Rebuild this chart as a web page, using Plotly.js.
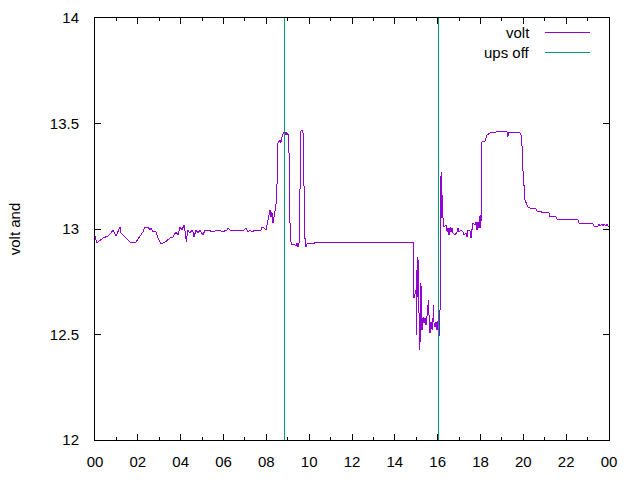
<!DOCTYPE html>
<html>
<head>
<meta charset="utf-8">
<script src="https://cdn.plot.ly/plotly-3.0.1.min.js"></script>
<style>
html,body{margin:0;padding:0;background:#fff;}
#chart{width:640px;height:480px;}
#chart .scatterlayer path, #chart .layer-above path, #chart .xlines-above, #chart .ylines-above, #chart path.xtick, #chart path.ytick {shape-rendering: crispEdges;}
</style>
</head>
<body>
<div id="chart"></div>
<script>
// Hours of the day (0..24) and measured voltage
const voltHours = [
  0, 0.09, 0.37, 0.61, 0.75, 0.84, 0.98, 1.17, 1.21, 1.40, 1.63, 1.87, 1.91, 2.24, 2.33, 2.47, 2.57, 2.61, 2.71, 2.85,
  2.94, 3.08, 3.27, 3.50, 3.64, 3.78, 3.88, 3.97, 4.06, 4.16, 4.20, 4.27, 4.32, 4.44, 4.53, 4.58, 4.62, 4.72, 4.81, 4.90,
  5.04, 5.14, 5.37, 5.42, 5.56, 5.65, 5.84, 5.93, 6.16, 6.21, 6.30, 6.96, 7.05, 7.14, 7.24, 7.33, 7.47, 7.75, 7.80, 7.89,
  7.98, 8.03, 8.08, 8.17, 8.22, 8.26, 8.31, 8.40, 8.45, 8.50, 8.52, 8.54, 8.64, 8.68, 8.73, 8.78, 8.82, 8.87, 8.92, 8.96,
  9.01, 9.06, 9.10, 9.15, 9.20, 9.29, 9.38, 9.43, 9.48, 9.53, 9.57, 9.62, 9.71, 9.76, 9.81, 9.85, 9.90, 10.18, 10.27, 10.32,
  10.37, 14.89, 14.89, 14.99, 14.99, 15.03, 15.05, 15.08, 15.13, 15.17, 15.22, 15.27, 15.32, 15.36, 15.41, 15.46, 15.50, 15.55, 15.57, 15.60,
  15.64, 15.69, 15.74, 15.78, 15.80, 15.83, 15.88, 15.92, 15.97, 15.99, 16.02, 16.06, 16.11, 16.12, 16.16, 16.18, 16.20, 16.25, 16.30, 16.39,
  16.44, 16.48, 16.53, 16.58, 16.62, 16.67, 16.72, 16.81, 16.90, 16.95, 17.00, 17.09, 17.18, 17.23, 17.32, 17.37, 17.42, 17.51, 17.56, 17.60,
  17.65, 17.74, 17.79, 17.84, 17.88, 17.93, 17.98, 18.02, 18.05, 18.07, 18.21, 18.26, 18.30, 18.44, 18.68, 18.72, 19.14, 19.24, 19.28, 19.30,
  19.84, 19.89, 19.94, 19.98, 20.03, 20.08, 20.17, 20.22, 20.31, 20.40, 20.59, 20.64, 20.82, 20.84, 21.20, 21.24, 21.52, 21.57, 21.99, 22.04,
  22.55, 22.60, 23.02, 23.07, 23.25, 23.30, 23.49, 23.53, 23.58, 23.67, 23.72, 23.77, 23.86, 23.91, 23.95, 24.0
];
const voltValues = [
  12.967, 12.934, 12.957, 12.967, 12.981, 12.995, 12.967, 13.009, 12.981, 12.962, 12.938, 12.934, 12.938, 12.986, 13.009, 13.009, 12.995, 13.005, 12.986, 12.986,
  12.957, 12.929, 12.938, 12.957, 12.962, 12.986, 12.972, 13.009, 12.995, 13.019, 12.986, 12.940, 12.995, 12.981, 12.995, 12.986, 12.962, 12.995, 12.981, 12.995,
  12.972, 12.995, 12.995, 12.986, 12.986, 12.995, 12.995, 12.986, 12.995, 13.005, 12.995, 12.995, 13.005, 12.986, 12.995, 12.986, 12.995, 12.995, 13.009, 13.005,
  12.995, 13.019, 13.057, 13.090, 13.057, 13.081, 13.028, 13.076, 13.114, 13.218, 13.313, 13.408, 13.422, 13.408, 13.436, 13.455, 13.460, 13.445, 13.460, 13.445,
  13.455, 13.360, 13.043, 12.938, 12.924, 12.929, 12.919, 12.934, 12.915, 12.934, 13.199, 13.469, 13.469, 13.199, 12.934, 12.915, 12.929, 12.929, 12.934, 12.938,
  12.934, 12.934, 12.673, 12.711, 12.498, 12.806, 12.678, 12.867, 12.602, 12.427, 12.744, 12.521, 12.583, 12.555, 12.578, 12.545, 12.583, 12.630, 12.664, 12.583,
  12.507, 12.559, 12.521, 12.569, 12.640, 12.555, 12.536, 12.559, 12.521, 12.545, 12.569, 12.483, 12.616, 13.052, 13.270, 13.052, 13.171, 13.052, 13.009, 13.019,
  12.986, 13.005, 12.972, 13.009, 12.986, 13.005, 12.981, 12.972, 12.986, 13.005, 12.986, 12.995, 12.986, 12.972, 12.981, 12.962, 12.995, 12.990, 12.957, 12.995,
  13.028, 13.019, 13.033, 12.995, 13.033, 13.005, 13.066, 13.005, 13.199, 13.412, 13.417, 13.431, 13.445, 13.455, 13.455, 13.460, 13.464, 13.460, 13.436, 13.455,
  13.455, 13.445, 13.389, 13.280, 13.185, 13.137, 13.114, 13.104, 13.100, 13.095, 13.095, 13.085, 13.085, 13.076, 13.076, 13.057, 13.057, 13.047, 13.047, 13.043,
  13.043, 13.028, 13.028, 13.024, 13.024, 13.014, 13.014, 13.024, 13.014, 13.024, 13.014, 13.024, 13.014, 13.024, 13.014, 13.009
];
// UPS switched off at these hours; signal swings between these levels
const upsOffHours = [8.87, 16.06];
const upsOffLevels = [0, 20];
// Axis tick values and labels
const xTickHours = [0, 2, 4, 6, 8, 10, 12, 14, 16, 18, 20, 22, 24];
const xTickLabels = ["00", "02", "04", "06", "08", "10", "12", "14", "16", "18", "20", "22", "00"];

const upsX = [], upsY = [];
upsOffHours.forEach((h, i) => {
  if (i > 0) { upsX.push(null); upsY.push(null); }
  upsX.push(h, h); upsY.push(upsOffLevels[0], upsOffLevels[1]);
});

const violet = '#9400d3', green = '#009e73';
const FONT = 'Liberation Sans, Arial, sans-serif';

const traces = [
  {x: voltHours, y: voltValues, type: 'scatter', mode: 'lines', name: 'volt',
   line: {color: violet, width: 1}, hoverinfo: 'skip'},
  {x: upsX, y: upsY, type: 'scatter', mode: 'lines', name: 'ups off',
   line: {color: green, width: 1}, hoverinfo: 'skip'}
];

const layout = {
  width: 640, height: 480,
  margin: {l: 95, r: 31, t: 18, b: 40, pad: 0},
  paper_bgcolor: '#fff', plot_bgcolor: '#fff',
  font: {family: FONT, size: 15, color: '#000'},
  showlegend: false,
  xaxis: {
    range: [0, 24], tickmode: 'array', tickvals: xTickHours, ticktext: xTickLabels,
    showgrid: false, zeroline: false, showline: true, linecolor: '#000', linewidth: 1,
    mirror: 'ticks', ticks: 'inside', ticklen: 6, tickcolor: '#000', tickwidth: 1,
    minor: {tickmode: 'linear', tick0: 0, dtick: 1, ticks: 'inside', ticklen: 3, tickcolor: '#000', showgrid: false},
    ticklabelstandoff: 8,
    tickfont: {family: FONT, size: 15, color: '#000'}
  },
  yaxis: {
    range: [12, 14], tickmode: 'linear', tick0: 12, dtick: 0.5,
    showgrid: false, zeroline: false, showline: true, linecolor: '#000', linewidth: 1,
    mirror: 'ticks', ticks: 'inside', ticklen: 6, tickcolor: '#000', tickwidth: 1,
    ticklabelstandoff: 12,
    tickfont: {family: FONT, size: 15, color: '#000'},
    title: {text: 'volt and', font: {family: FONT, size: 15, color: '#000'}, standoff: 25}
  },
  annotations: [
    {xref: 'paper', yref: 'paper', x: 0.850, y: 0.9645, xanchor: 'right', yanchor: 'middle',
     text: 'volt', showarrow: false, font: {family: FONT, size: 15, color: '#000'}},
    {xref: 'paper', yref: 'paper', x: 0.850, y: 0.919, xanchor: 'right', yanchor: 'middle',
     text: 'ups off', showarrow: false, font: {family: FONT, size: 15, color: '#000'}}
  ],
  shapes: [
    {type: 'line', xref: 'paper', yref: 'paper', x0: 0.875, x1: 0.963, y0: 0.9645, y1: 0.9645,
     line: {color: violet, width: 1}},
    {type: 'line', xref: 'paper', yref: 'paper', x0: 0.875, x1: 0.963, y0: 0.919, y1: 0.919,
     line: {color: green, width: 1}}
  ]
};

Plotly.newPlot('chart', traces, layout, {staticPlot: true, displayModeBar: false});
</script>
</body>
</html>
